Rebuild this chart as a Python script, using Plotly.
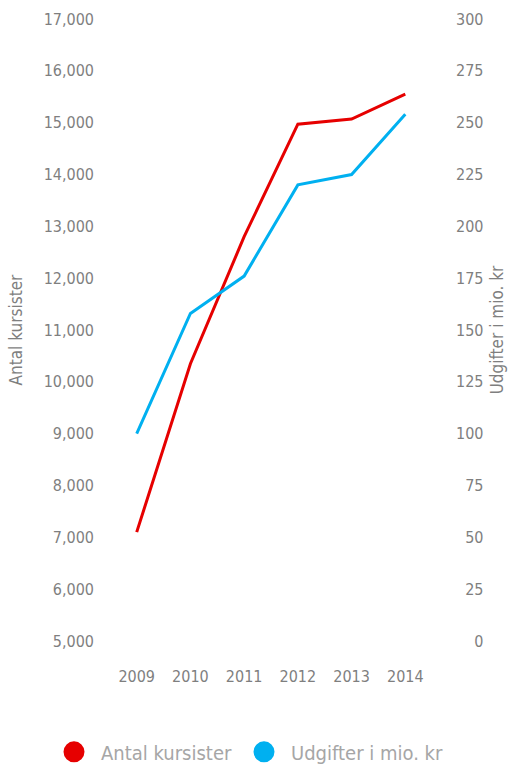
import plotly.graph_objects as go

years = [2009, 2010, 2011, 2012, 2013, 2014]
antal_kursister = [7100, 10350, 12800, 14970, 15070, 15550]
udgifter = [100, 158, 176, 220, 225, 254]

left_ticks = list(range(5000, 17001, 1000))
right_ticks = list(range(0, 301, 25))
right_ticktext = [str(v).rjust(3, "\u2007") for v in right_ticks]

RED = "#e60000"
BLUE = "#00b0f0"
FONT = "DejaVu Sans Condensed, Liberation Sans, sans-serif"
TICK_COLOR = "#7f7f7f"
LEGEND_COLOR = "#a6a6a6"

fig = go.Figure()
fig.add_trace(go.Scatter(x=years, y=antal_kursister, mode="lines", name="Antal kursister",
                         line=dict(color=RED, width=3), showlegend=False, yaxis="y"))
fig.add_trace(go.Scatter(x=years, y=udgifter, mode="lines", name="Udgifter i mio. kr",
                         line=dict(color=BLUE, width=3), showlegend=False, yaxis="y2"))
# legend entries (circles)
fig.add_trace(go.Scatter(x=[None], y=[None], mode="markers", name="Antal kursister",
                         marker=dict(color=RED, size=16, line=dict(color=RED, width=5)),
                         legend="legend"))
fig.add_trace(go.Scatter(x=[None], y=[None], mode="markers", name="Udgifter i mio. kr",
                         marker=dict(color=BLUE, size=16, line=dict(color=BLUE, width=5)),
                         yaxis="y2", legend="legend2"))

legend_common = dict(orientation="h", xanchor="left", xref="container",
                     yanchor="middle", yref="container", y=0.021,
                     font=dict(size=20, color=LEGEND_COLOR), itemsizing="trace",
                     itemclick=False, itemdoubleclick=False, itemwidth=44,
                     bgcolor="rgba(0,0,0,0)")

fig.update_layout(
    width=512, height=768,
    margin=dict(l=105, r=75, t=19, b=127, autoexpand=False),
    paper_bgcolor="white", plot_bgcolor="white",
    font=dict(family=FONT, color=TICK_COLOR, size=16),
    xaxis=dict(range=[2008.41, 2014.59], tickvals=years, ticktext=[str(y) for y in years],
               showgrid=False, zeroline=False, showline=False, ticks="",
               ticklabelstandoff=24, tickfont=dict(size=16, color=TICK_COLOR), fixedrange=True),
    yaxis=dict(range=[5000, 17000], tickvals=left_ticks, tickformat=",",
               showgrid=False, zeroline=False, showline=False, ticks="",
               ticklabelstandoff=10, tickfont=dict(size=16, color=TICK_COLOR),
               title=dict(text="Antal kursister", font=dict(size=17, color=TICK_COLOR), standoff=16)),
    yaxis2=dict(range=[0, 300], overlaying="y", side="right", tickvals=right_ticks,
                ticktext=right_ticktext, showgrid=False, zeroline=False, showline=False,
                ticks="", ticklabelstandoff=18, tickfont=dict(size=16, color=TICK_COLOR),
                title=dict(text="Udgifter i mio. kr", font=dict(size=17, color=TICK_COLOR), standoff=8)),
    legend=dict(legend_common, x=47 / 512),
    legend2=dict(legend_common, x=237 / 512),
)

fig.write_html("out.html")
